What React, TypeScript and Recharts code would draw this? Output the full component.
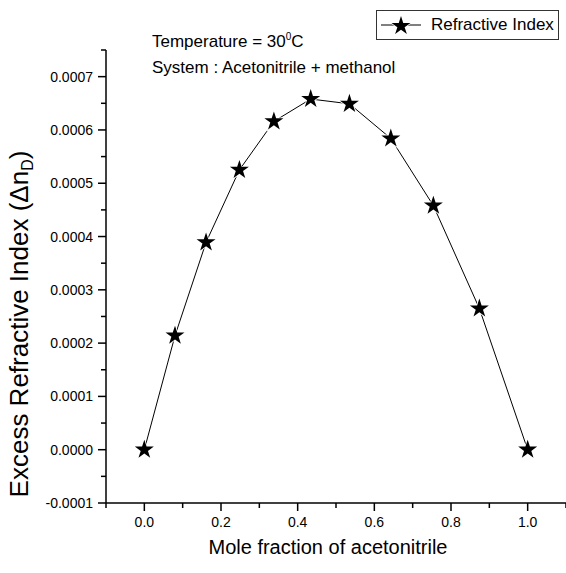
import React from "react";
import { LineChart, Line, XAxis, YAxis, Legend, Symbols } from "recharts";

// mole fraction of acetonitrile vs excess refractive index
const moleFraction = [0, 0.08, 0.161, 0.248, 0.338, 0.434, 0.535, 0.643, 0.754, 0.874, 1.0];
const excessRI = [0, 0.000214, 0.000389, 0.000525, 0.000616, 0.000658, 0.000649, 0.000584, 0.000458, 0.000265, 0];

const xTicks = [-0.1, 0, 0.1, 0.2, 0.3, 0.4, 0.5, 0.6, 0.7, 0.8, 0.9, 1.0, 1.1];
const yTicks = [
  -0.0001, -0.00005, 0, 0.00005, 0.0001, 0.00015, 0.0002, 0.00025, 0.0003, 0.00035,
  0.0004, 0.00045, 0.0005, 0.00055, 0.0006, 0.00065, 0.0007, 0.00075,
];

const data = moleFraction.map((x, i) => ({ x, y: excessRI[i] }));

const FONT = "'Liberation Sans', Arial, sans-serif";

const isMajorX = (v: number) => {
  const k = Math.round(v * 10);
  return k % 2 === 0 && k >= 0 && k <= 10;
};
const isMajorY = (v: number) => Math.round(v / 0.00005) % 2 === 0;

const XTick = (props: any) => {
  const { x, y, payload } = props;
  const v = payload.value;
  const major = isMajorX(v);
  return (
    <g>
      <line x1={x} x2={x} y1={y} y2={y + (major ? 8 : 5)} stroke="#000" strokeWidth={1.5} />
      {major && (
        <text x={x} y={y + 24} textAnchor="middle" fontSize={14} fontFamily={FONT} fill="#000">
          {v.toFixed(1)}
        </text>
      )}
    </g>
  );
};

const YTick = (props: any) => {
  const { x, y, payload } = props;
  const v = payload.value;
  const major = isMajorY(v);
  return (
    <g>
      <line x1={x - (major ? 8 : 5)} x2={x} y1={y} y2={y} stroke="#000" strokeWidth={1.5} />
      {major && (
        <text x={x - 13} y={y + 5} textAnchor="end" fontSize={14} fontFamily={FONT} fill="#000">
          {v.toFixed(4)}
        </text>
      )}
    </g>
  );
};

const StarDot = (props: any) => {
  const { cx, cy, index } = props;
  if (cx == null || cy == null) return null;
  return (
    <g key={`star-${index}`}>
      <Symbols cx={cx} cy={cy} type="star" size={180} fill="#fff" stroke="none" />
      <Symbols cx={cx} cy={cy} type="star" size={112} fill="#000" stroke="none" />
    </g>
  );
};

const LegendBox = () => (
  <div
    style={{
      border: "1px solid #333",
      background: "#fff",
      display: "flex",
      alignItems: "center",
      padding: "3px 4px 3px 2px",
      fontFamily: FONT,
      fontSize: 17,
      color: "#000",
      whiteSpace: "nowrap",
    }}
  >
    <svg width={44} height={22} style={{ marginRight: 8 }}>
      <line x1={2} x2={42} y1={11} y2={11} stroke="#000" strokeWidth={1} />
      <Symbols cx={22} cy={12} type="star" size={180} fill="#fff" stroke="none" />
      <Symbols cx={22} cy={12} type="star" size={112} fill="#000" stroke="none" />
    </svg>
    Refractive Index
  </div>
);

const XTitle = (props: any) => {
  const { x, y, width } = props.viewBox;
  return (
    <text x={x + width / 2 - 8} y={y + 51} textAnchor="middle" fontSize={20} fontFamily={FONT} fill="#000">
      Mole fraction of acetonitrile
    </text>
  );
};

const YTitle = () => (
  <text
    x={0}
    y={0}
    transform="translate(28, 324) rotate(-90)"
    textAnchor="middle"
    fontSize={26}
    fontFamily={FONT}
    fill="#000"
  >
    Excess Refractive Index (Δn
    <tspan dy={5} fontSize={16}>D</tspan>
    <tspan dy={-5}>)</tspan>
  </text>
);

export default function App() {
  return (
    <div
      style={{
        position: "absolute",
        left: 0,
        top: 0,
        width: 566,
        height: 573,
        background: "#fff",
        fontFamily: FONT,
      }}
    >
      <LineChart width={566} height={573} data={data} margin={{ top: 50, right: 0, bottom: 0, left: 0 }}>
        <XAxis
          type="number"
          dataKey="x"
          domain={[-0.1, 1.1]}
          ticks={xTicks}
          interval={0}
          allowDataOverflow
          height={70}
          tickSize={0}
          tickMargin={0}
          tickLine={false}
          axisLine={{ stroke: "#000", strokeWidth: 1.5 }}
          tick={<XTick />}
          label={<XTitle />}
        />
        <YAxis
          type="number"
          dataKey="y"
          domain={[-0.0001, 0.00075]}
          ticks={yTicks}
          interval={0}
          allowDataOverflow
          width={106}
          tickSize={0}
          tickMargin={0}
          tickLine={false}
          axisLine={{ stroke: "#000", strokeWidth: 1.5 }}
          tick={<YTick />}
          label={<YTitle />}
        />
        <Legend
          layout="horizontal"
          verticalAlign="middle"
          align="center"
          wrapperStyle={{ left: 376, top: 10, width: "auto" }}
          content={<LegendBox />}
        />
        <Line
          type="linear"
          dataKey="y"
          stroke="#000"
          strokeWidth={1}
          dot={StarDot}
          activeDot={false}
          isAnimationActive={false}
        />
      </LineChart>
      <div
        style={{
          position: "absolute",
          left: 152,
          top: 29,
          fontSize: 17,
          lineHeight: "26px",
          color: "#000",
          whiteSpace: "nowrap",
        }}
      >
        <div>
          Temperature = 30<sup style={{ fontSize: 10, verticalAlign: "7px", lineHeight: 0 }}>0</sup>C
        </div>
        <div>System : Acetonitrile + methanol</div>
      </div>
    </div>
  );
}
